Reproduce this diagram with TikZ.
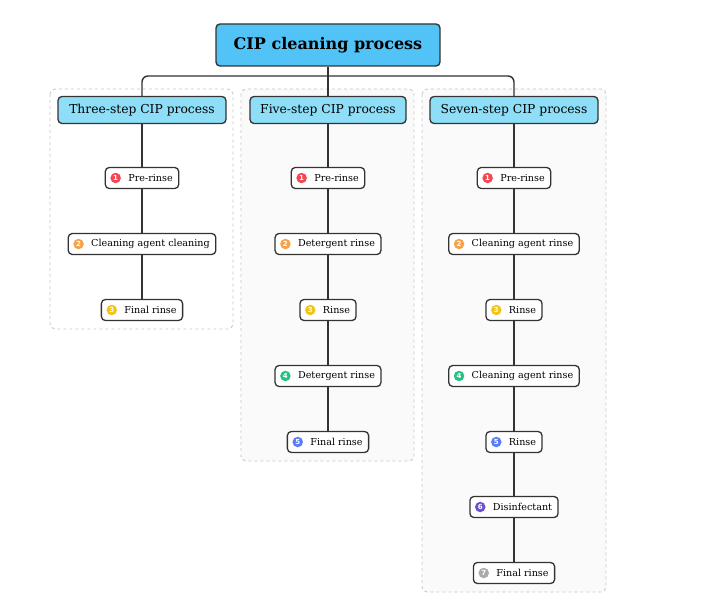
\documentclass[tikz,border=0pt]{standalone}
\usepackage{fontspec}
\setmainfont{DejaVu Serif}
\newfontfamily\badgefont{DejaVu Sans}
\definecolor{linec}{HTML}{333333}
\definecolor{rootc}{HTML}{51C3F6}
\definecolor{subc}{HTML}{8EDEF8}
\definecolor{grpc}{HTML}{C8C8C8}
\definecolor{grpfill}{HTML}{FAFAFA}
\definecolor{bA}{HTML}{F5474F}
\definecolor{bB}{HTML}{F7A24A}
\definecolor{bC}{HTML}{F2C318}
\definecolor{bD}{HTML}{27C281}
\definecolor{bE}{HTML}{5B7CF7}
\definecolor{bF}{HTML}{6B4FCF}
\definecolor{bG}{HTML}{AAAAAA}
\begin{document}
\begin{tikzpicture}[x=1pt,y=-1pt,
  rootbox/.style={draw=linec, line width=1.4pt, rounded corners=4pt, fill=rootc,
    minimum width=224pt, minimum height=42pt, inner sep=0pt,
    font=\fontsize{16}{19}\selectfont\bfseries},
  lvlbox/.style={draw=linec, line width=1.3pt, rounded corners=4pt, fill=subc,
    minimum height=27pt, inner sep=0pt, font=\fontsize{12.3}{15}\selectfont},
  stepbox/.style={draw=linec, line width=1.3pt, rounded corners=4pt, fill=white,
    minimum height=21pt, inner ysep=0pt, inner xsep=6pt,
    font=\fontsize{9.6}{11}\selectfont},
  badge/.style={circle, fill=#1, inner sep=0pt, minimum size=10.5pt, text=white,
    font=\badgefont\fontsize{7}{7}\selectfont\bfseries},
  grp/.style={draw=grpc, dashed, line width=0.9pt, rounded corners=5pt},
  conn/.style={draw=linec, line width=1.4pt}
]
\useasboundingbox (0,0) rectangle (709,607);
\fill[white] (0,0) rectangle (709,607);

% groups
\draw[grp, fill=white] (50,89) rectangle (233,329);
\draw[grp, fill=grpfill] (241,89) rectangle (414,461);
\draw[grp, fill=grpfill] (422,89) rectangle (606,592);

\coordinate (jct) at (328,76);

\node[rootbox] (root) at (328,45) {CIP cleaning process};
\node[lvlbox, minimum width=168pt] (la) at (142,110) {Three-step CIP process};
\node[lvlbox, minimum width=156pt] (lb) at (328,110) {Five-step CIP process};
\node[lvlbox, minimum width=168pt] (lc) at (514,110) {Seven-step CIP process};

\draw[conn, rounded corners=6pt] (la.north) |- (jct);
\draw[conn, rounded corners=6pt] (lc.north) |- (jct);
\draw[conn] (root) -- (lb);

% three-step
\node[stepbox] (a1) at (142,178) {\hspace*{17pt}Pre-rinse};
\node[stepbox] (a2) at (142,244) {\hspace*{17pt}Cleaning agent cleaning};
\node[stepbox] (a3) at (142,310) {\hspace*{17pt}Final rinse};
% five-step
\node[stepbox] (b1) at (328,178) {\hspace*{17pt}Pre-rinse};
\node[stepbox] (b2) at (328,244) {\hspace*{17pt}Detergent rinse};
\node[stepbox] (b3) at (328,310) {\hspace*{17pt}Rinse};
\node[stepbox] (b4) at (328,376) {\hspace*{17pt}Detergent rinse};
\node[stepbox] (b5) at (328,442) {\hspace*{17pt}Final rinse};
% seven-step
\node[stepbox] (c1) at (514,178) {\hspace*{17pt}Pre-rinse};
\node[stepbox] (c2) at (514,244) {\hspace*{17pt}Cleaning agent rinse};
\node[stepbox] (c3) at (514,310) {\hspace*{17pt}Rinse};
\node[stepbox] (c4) at (514,376) {\hspace*{17pt}Cleaning agent rinse};
\node[stepbox] (c5) at (514,442) {\hspace*{17pt}Rinse};
\node[stepbox] (c6) at (514,507) {\hspace*{17pt}Disinfectant};
\node[stepbox] (c7) at (514,573) {\hspace*{17pt}Final rinse};

\draw[conn] (la) -- (a1) (a1) -- (a2) (a2) -- (a3);
\draw[conn] (lb) -- (b1) (b1) -- (b2) (b2) -- (b3) (b3) -- (b4) (b4) -- (b5);
\draw[conn] (lc) -- (c1) (c1) -- (c2) (c2) -- (c3) (c3) -- (c4) (c4) -- (c5) (c5) -- (c6) (c6) -- (c7);

% badges
\foreach \n/\c/\k in {a1/bA/1,a2/bB/2,a3/bC/3,
  b1/bA/1,b2/bB/2,b3/bC/3,b4/bD/4,b5/bE/5,
  c1/bA/1,c2/bB/2,c3/bC/3,c4/bD/4,c5/bE/5,c6/bF/6,c7/bG/7}
  \node[badge=\c] (g\n) at ([xshift=11pt]\n.west) {\k};
\end{tikzpicture}
\end{document}
